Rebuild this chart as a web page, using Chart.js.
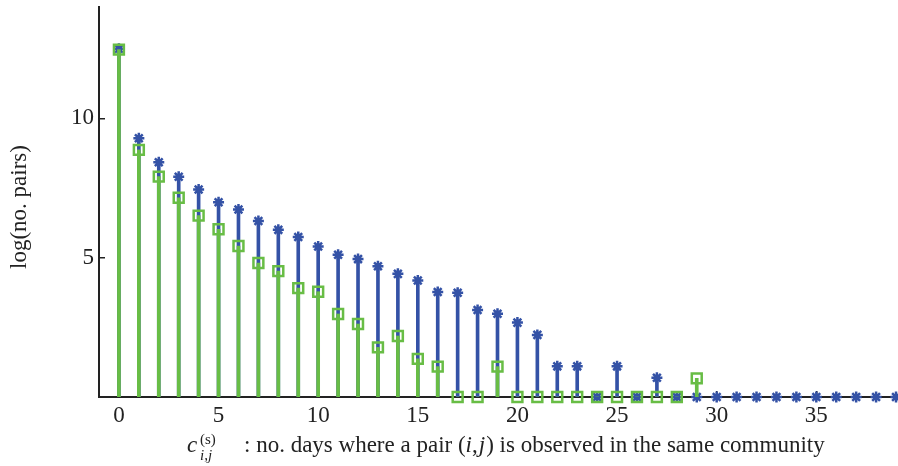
<!DOCTYPE html>
<html>
<head>
<meta charset="utf-8">
<script src="https://cdn.jsdelivr.net/npm/chart.js@4/dist/chart.umd.min.js"></script>
<style>
  html, body { margin: 0; padding: 0; background: #fff; }
  canvas { display: block; }
</style>
</head>
<body>
<canvas id="grafico" width="898" height="466"></canvas>
<script>
/* Stem plot: log(no. pairs) per number of days a pair shares a community. */

const DAYS = [0, 1, 2, 3, 4, 5, 6, 7, 8, 9, 10, 11, 12, 13, 14, 15, 16, 17, 18, 19,
              20, 21, 22, 23, 24, 25, 26, 27, 28, 29, 30, 31, 32, 33, 34, 35, 36, 37, 38, 39];

// blue asterisks (one value per day, 0..39)
const LOG_PAIRS_BLUE = [12.5, 9.29, 8.43, 7.91, 7.45, 6.99, 6.73, 6.32, 6.0, 5.74,
                        5.4, 5.11, 4.95, 4.69, 4.42, 4.18, 3.77, 3.74, 3.12, 2.99,
                        2.67, 2.23, 1.1, 1.1, 0, 1.1, 0, 0.69, 0, 0,
                        0, 0, 0, 0, 0, 0, 0, 0, 0, 0];

// green squares (days 0..29 only)
const LOG_PAIRS_GREEN = [12.47, 8.87, 7.91, 7.15, 6.51, 6.02, 5.42, 4.81, 4.52, 3.91,
                         3.78, 2.98, 2.62, 1.78, 2.19, 1.37, 1.09, 0, 0, 1.09,
                         0, 0, 0, 0, 0, 0, 0, 0, 0, 0.67];

const X_TICKS = [0, 5, 10, 15, 20, 25, 30, 35];
const Y_TICKS = [5, 10];

const AZUL = "#3452a6";
const VERDE = "#68bd45";
const TINTA = "#222";
const SERIF = "'Liberation Serif', 'DejaVu Serif', serif";
const TAM = 23;

const pontos = vals => vals.map((v, i) => ({ x: DAYS[i], y: v }));

// axis titles drawn by hand because the x title mixes italics, sub- and superscripts
const titulos = {
  id: "titulos",
  afterDraw(chart) {
    const ctx = chart.ctx;
    ctx.save();
    ctx.fillStyle = TINTA;
    ctx.textBaseline = "alphabetic";
    ctx.textAlign = "left";

    const base = 452;
    const trecho = (txt, x, y, tam, italico) => {
      ctx.font = `${italico ? "italic " : ""}${tam}px ${SERIF}`;
      ctx.fillText(txt, x, y);
      return x + ctx.measureText(txt).width;
    };
    trecho("c", 187, base, TAM, true);
    trecho("(s)", 200, 444, 15, false);
    trecho("i,j", 200, 460, 15, true);
    let x = trecho(": no. days where a pair (", 244, base, TAM, false);
    x = trecho("i", x, base, TAM, true);
    x = trecho(",", x, base, TAM, false);
    x = trecho("j", x + 1, base, TAM, true);
    trecho(") is observed in the same community", x + 1, base, TAM, false);

    ctx.translate(26, 207);
    ctx.rotate(-Math.PI / 2);
    ctx.textAlign = "center";
    ctx.font = `${TAM}px ${SERIF}`;
    ctx.fillText("log(no. pairs)", 0, 0);
    ctx.restore();
  },
};

const eixo = {
  grid: { drawOnChartArea: false, drawTicks: true, tickLength: -6, offset: false,
          color: TINTA, lineWidth: 1.5 },
  border: { display: true, color: TINTA, width: 2 },
};

new Chart(document.getElementById("grafico"), {
  type: "bar",
  data: {
    datasets: [
      { type: "line", data: pontos(LOG_PAIRS_GREEN), showLine: false, order: 0, clip: false,
        pointStyle: "rect", pointRadius: 7, pointBorderWidth: 2.5,
        pointBorderColor: VERDE, pointBackgroundColor: "rgba(0,0,0,0)" },
      { type: "bar", data: pontos(LOG_PAIRS_GREEN), order: 1, barThickness: 3,
        backgroundColor: VERDE, borderWidth: 0, grouped: false },
      { type: "line", data: pontos(LOG_PAIRS_BLUE), showLine: false, order: 2, clip: false,
        pointStyle: "star", pointRadius: 5.5, pointBorderWidth: 2.5,
        pointBorderColor: AZUL, pointBackgroundColor: AZUL },
      { type: "bar", data: pontos(LOG_PAIRS_BLUE), order: 3, barThickness: 3,
        backgroundColor: AZUL, borderWidth: 0, grouped: false },
    ],
  },
  options: {
    responsive: false,
    animation: false,
    events: [],
    layout: { autoPadding: false, padding: { top: 7, right: 0, bottom: 0, left: 0 } },
    plugins: { legend: { display: false }, tooltip: { enabled: false } },
    scales: {
      x: {
        type: "linear", min: -1, max: 39.1, offset: false, ...eixo,
        afterBuildTicks: s => { s.ticks = X_TICKS.map(v => ({ value: v })); },
        afterFit: s => { s.height = 69; s.paddingLeft = 0; s.paddingRight = 0; },
        ticks: { padding: 11, color: TINTA, font: { family: SERIF, size: TAM } },
      },
      y: {
        type: "linear", min: 0, max: 14, ...eixo,
        afterBuildTicks: s => { s.ticks = Y_TICKS.map(v => ({ value: v })); },
        afterFit: s => { s.width = 99; s.paddingTop = 0; s.paddingBottom = 0; },
        ticks: { padding: 11, color: TINTA, font: { family: SERIF, size: TAM } },
      },
    },
  },
  plugins: [titulos],
});
</script>
</body>
</html>
